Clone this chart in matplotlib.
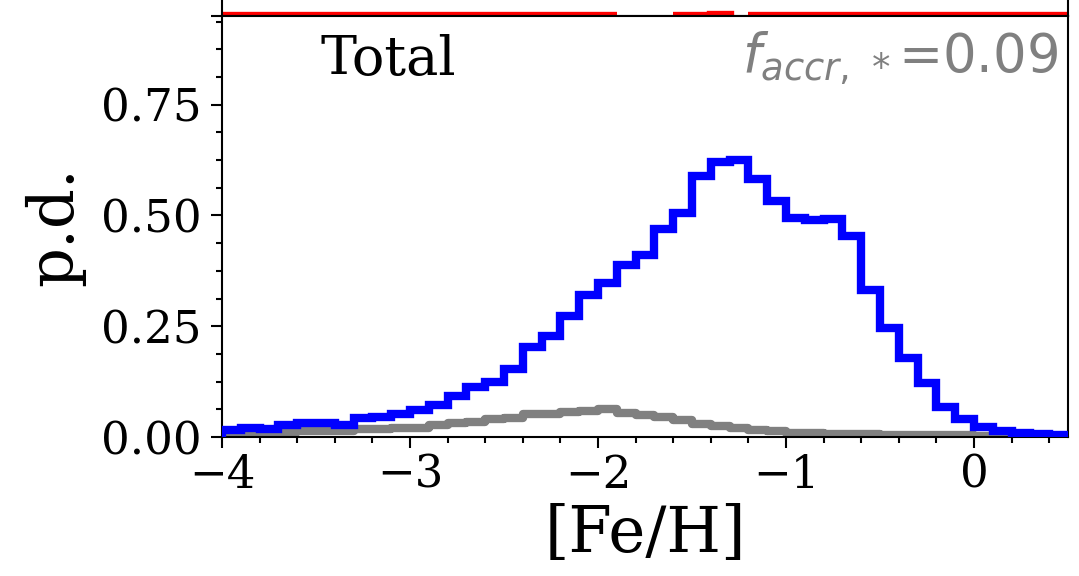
import numpy as np
import matplotlib
matplotlib.use("Agg")
import matplotlib.pyplot as plt
from matplotlib.ticker import MultipleLocator

plt.rcParams['mathtext.fontset'] = 'dejavusans'

# bin edges in [Fe/H]
bin_edges = np.round(np.arange(-4.0, 0.5001, 0.1), 2)

# Total (blue) probability density per bin
total_pd = [0.015, 0.020, 0.018, 0.026, 0.031, 0.031, 0.027, 0.043, 0.046, 0.052,
            0.060, 0.073, 0.092, 0.113, 0.124, 0.154, 0.203, 0.227, 0.274, 0.321,
            0.347, 0.389, 0.410, 0.470, 0.506, 0.588, 0.621, 0.626, 0.582, 0.533,
            0.494, 0.490, 0.493, 0.454, 0.331, 0.247, 0.179, 0.122, 0.068, 0.040,
            0.023, 0.013, 0.009, 0.006, 0.004]

# accreted (grey) probability density per bin
accr_pd = [0.009, 0.010, 0.010, 0.012, 0.013, 0.013, 0.014, 0.018, 0.019, 0.020,
           0.021, 0.027, 0.032, 0.034, 0.041, 0.044, 0.052, 0.051, 0.057, 0.059,
           0.064, 0.054, 0.050, 0.046, 0.039, 0.030, 0.025, 0.020, 0.016, 0.013,
           0.010, 0.008, 0.007, 0.007, 0.006, 0.005, 0.005, 0.004, 0.004, 0.004,
           0.003, 0.003, 0.003, 0.003, 0.003]

# panel above (only its bottom edge is visible in the crop); NaN = outside the crop
nan = np.nan
above_red = [0.0]*21 + [nan, nan, nan, 0.0, 0.0, 0.004, nan] + [0.0]*17

fig = plt.figure(figsize=(10.79, 5.76), dpi=100)
W, H = 1079, 576
L, R, T, B = 222, 1068, 16, 437

# upper panel (cropped)
ax_top = fig.add_axes([L/W, (H-T)/H, (R-L)/W, 0.6])
ax_top.stairs(above_red, bin_edges, color='red', lw=6)
ax_top.set_xlim(-4, 0.5)
ax_top.set_ylim(0, 1)
ax_top.set_xticks([])
ax_top.tick_params(axis='y', labelleft=False, length=8, width=1.5)
ax_top.set_yticks([0])
for s in ax_top.spines.values():
    s.set_linewidth(1.5)

ax = fig.add_axes([L/W, (H-B)/H, (R-L)/W, (B-T)/H])
ax.stairs(accr_pd, bin_edges, color='grey', lw=6, joinstyle='round', capstyle='round', zorder=2)
ax.stairs(total_pd, bin_edges, color='blue', lw=6, zorder=3)
ax.set_xlim(-4, 0.5)
ax.set_ylim(0, 0.95)

ax.xaxis.set_major_locator(MultipleLocator(1))
ax.xaxis.set_minor_locator(MultipleLocator(0.2))
ax.yaxis.set_major_locator(MultipleLocator(0.25))
ax.yaxis.set_minor_locator(MultipleLocator(0.0625))
ax.tick_params(which='major', length=8, width=1.5, labelsize=32.5)
ax.tick_params(axis='x', which='major', pad=4)
ax.tick_params(axis='y', which='major', pad=7)
ax.tick_params(which='minor', length=4, width=1.5)
for s in ax.spines.values():
    s.set_linewidth(1.5)
for lab in ax.get_xticklabels() + ax.get_yticklabels():
    lab.set_fontfamily('DejaVu Serif')

ax.set_xlabel('[Fe/H]', fontsize=45, fontfamily='DejaVu Serif', labelpad=5)
ax.set_ylabel('p.d.', fontsize=45, fontfamily='DejaVu Serif', labelpad=11)

ax.text(0.116, 0.86, 'Total', transform=ax.transAxes, fontsize=39,
        fontfamily='DejaVu Serif', ha='left', va='baseline')
ax.text(0.988, 0.867, r'$f_{accr,\,*}$=0.09', transform=ax.transAxes, fontsize=38,
        fontfamily='DejaVu Sans', color='grey', ha='right', va='baseline')

fig.savefig('out.png', dpi=100)
